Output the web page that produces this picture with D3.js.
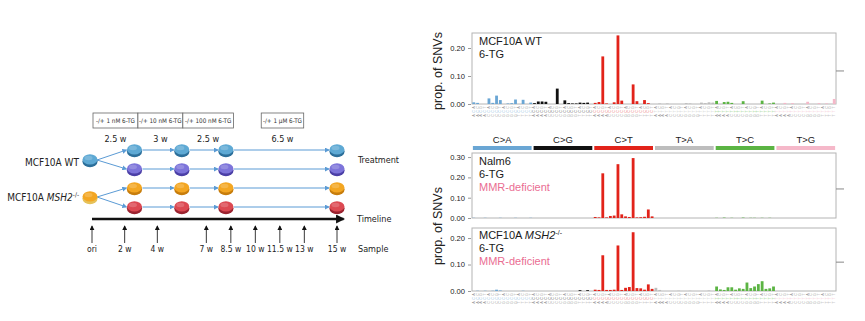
<!DOCTYPE html>
<html>
<head>
<meta charset="utf-8">
<script src="https://cdn.jsdelivr.net/npm/d3@7"></script>
<style>
  body { margin: 0; background: #fff; }
  svg { display: block; font-family: "Liberation Sans", Arial, sans-serif; }
  .narrow { font-family: "Liberation Sans Narrow", "DejaVu Sans Condensed", "Liberation Sans", Arial, sans-serif; }
</style>
</head>
<body>
<svg id="fig" width="865" height="321"></svg>
<script>
// ---- data ----
const mutTypes = ['C>A', 'C>G', 'C>T', 'T>A', 'T>C', 'T>G']
const bases = ['A', 'C', 'G', 'T']

// proportion of SNVs per trinucleotide channel (16 per mutation type)
const wtSNV = [
  0.006, 0.004, 0, 0, 0.020, 0.004, 0.030, 0.014, 0, 0.002, 0.003, 0.016, 0, 0.015, 0, 0.005,
  0.003, 0.009, 0.009, 0.008, 0, 0, 0.055, 0, 0.013, 0.003, 0.002, 0.002, 0.005, 0.004, 0.005, 0,
  0.004, 0.007, 0.170, 0.002, 0, 0.006, 0.245, 0.012, 0, 0, 0.070, 0.010, 0, 0.014, 0.003, 0,
  0, 0.002, 0, 0.002, 0, 0, 0, 0, 0.003, 0.002, 0, 0, 0.005, 0.003, 0.006, 0.005,
  0.011, 0, 0.007, 0.008, 0.004, 0, 0, 0.010, 0, 0, 0, 0, 0.012, 0, 0.002, 0.005,
  0, 0, 0.004, 0, 0.003, 0, 0, 0, 0.008, 0, 0, 0.003, 0, 0.002, 0, 0.018
]
const nalm6SNV = [
  0.001, 0, 0, 0.001, 0, 0, 0, 0.001, 0, 0, 0, 0.001, 0, 0, 0, 0.001,
  0, 0, 0, 0, 0, 0, 0, 0, 0, 0, 0, 0, 0, 0, 0, 0,
  0.005, 0.003, 0.220, 0.003, 0.010, 0.012, 0.265, 0.018, 0.008, 0.005, 0.295, 0.003, 0.004, 0.006, 0.042, 0.008,
  0, 0, 0, 0, 0, 0, 0, 0, 0, 0, 0, 0, 0, 0, 0, 0,
  0.001, 0, 0.002, 0, 0.001, 0, 0, 0.002, 0, 0.001, 0.001, 0, 0.001, 0, 0.001, 0,
  0, 0, 0, 0, 0, 0, 0, 0, 0, 0, 0, 0, 0, 0, 0, 0
]
const msh2SNV = [
  0, 0.001, 0, 0.001, 0, 0.001, 0.005, 0.002, 0, 0, 0, 0, 0, 0.001, 0, 0,
  0, 0, 0, 0, 0, 0, 0, 0, 0, 0, 0, 0, 0.003, 0, 0.003, 0,
  0.005, 0.004, 0.135, 0.004, 0.004, 0.005, 0.172, 0.004, 0.012, 0.015, 0.222, 0.011, 0.010, 0.005, 0.025, 0.008,
  0.012, 0.004, 0, 0, 0, 0, 0.001, 0, 0, 0.001, 0, 0, 0, 0, 0.002, 0,
  0.017, 0.006, 0.004, 0.014, 0.014, 0.005, 0.010, 0.008, 0.032, 0.011, 0.017, 0.026, 0.037, 0.008, 0.010, 0.017,
  0, 0, 0, 0, 0, 0, 0, 0, 0, 0, 0, 0, 0, 0, 0, 0
]

// experiment schedule (weeks)
const doseLabels = ['-/+ 1 nM 6-TG', '-/+ 10 nM 6-TG', '-/+ 100 nM 6-TG', '-/+ 1 \u03bcM 6-TG']
const doseSpans = [[0, 2.75], [2.75, 5.5], [5.5, 8.6], [10.3, 12.9]]
const stageLabels = ['2.5 w', '3 w', '2.5 w', '6.5 w']
const dishWeeks = [2.6, 5.5, 8.2, 15]
const sampleWeeks = [0, 2, 4, 7, 8.5, 10, 11.5, 13, 15]
const sampleLabels = ['ori', '2 w', '4 w', '7 w', '8.5 w', '10 w', '11.5 w', '13 w', '15 w']

// ---- styling ----
const typeColors = ['#6aa6d4', '#111111', '#e2231a', '#bdbdbd', '#5bb443', '#f5b8c9']
const ctxColors = ['#8ab8dc', '#555555', '#ea6a6a', '#c4c4c4', '#7cc46a', '#f3bccb']
const pinkText = '#ea6d92'
const arrowBlue = '#5b9bd5'

const svg = d3.select('#fig')
const defs = svg.append('defs')

const marker = (id, color, size) => defs.append('marker')
  .attr('id', id)
  .attr('viewBox', '0 0 6 6')
  .attr('refX', 5).attr('refY', 3)
  .attr('markerUnits', 'userSpaceOnUse')
  .attr('markerWidth', size).attr('markerHeight', size)
  .attr('orient', 'auto')
  .append('path').attr('d', 'M0,0L6,3L0,6z').attr('fill', color)

marker('ahBlue', arrowBlue, 5)
marker('ahBlack', '#111', 5)
marker('ahTime', '#111', 9)

// =========================================================
// Left: experimental design
// =========================================================
const wk = d3.scaleLinear().domain([0, 15]).range([92, 337])
const rowY = d3.scalePoint().domain([0, 1, 2, 3]).range([150, 207])
const dishFill = ['#5ea9d4', '#7d74da', '#f3a622', '#dc4952']
const dishRim = ['#2c6f9a', '#4b3fa6', '#c77d0c', '#9b2330']

const left = svg.append('g').attr('class', 'narrow')

// dose boxes
const boxY = 113, boxH = 15
left.selectAll('rect.dose')
  .data(doseLabels)
  .join('rect')
    .attr('class', 'dose')
    .attr('x', (d, i) => wk(doseSpans[i][0]) + 1)
    .attr('y', boxY)
    .attr('width', (d, i) => wk(doseSpans[i][1]) - wk(doseSpans[i][0]))
    .attr('height', boxH)
    .attr('fill', '#fff')
    .attr('stroke', '#666')
    .attr('stroke-width', 0.8)

left.selectAll('text.dose')
  .data(doseLabels)
  .join('text')
    .attr('class', 'dose')
    .attr('x', (d, i) => (wk(doseSpans[i][0]) + wk(doseSpans[i][1])) / 2 + 1)
    .attr('y', boxY + 10)
    .attr('text-anchor', 'middle')
    .attr('font-size', 6.3)
    .attr('fill', '#333')
    .text(d => d)

left.selectAll('text.stage')
  .data(stageLabels)
  .join('text')
    .attr('class', 'stage')
    .attr('x', (d, i) => (wk(doseSpans[i][0]) + wk(doseSpans[i][1])) / 2 + 1)
    .attr('y', 142)
    .attr('text-anchor', 'middle')
    .attr('font-size', 9)
    .attr('fill', '#222')
    .text(d => d)

// transfer arrows
const origins = [
  { y: 160, fill: dishFill[0], rim: dishRim[0], rows: [0, 1] },
  { y: 197, fill: '#f3a622', rim: '#e6c25a', rows: [2, 3] }
]
const ox = wk(0) - 2

origins.forEach(o => {
  o.rows.forEach(r => {
    left.append('line')
      .attr('x1', ox + 7).attr('y1', o.y)
      .attr('x2', wk(dishWeeks[0]) - 8).attr('y2', rowY(r))
      .attr('stroke', arrowBlue).attr('stroke-width', 1)
      .attr('marker-end', 'url(#ahBlue)')
  })
})

d3.range(4).forEach(r => {
  d3.range(dishWeeks.length - 1).forEach(c => {
    left.append('line')
      .attr('x1', wk(dishWeeks[c]) + 8).attr('y1', rowY(r))
      .attr('x2', wk(dishWeeks[c + 1]) - 8).attr('y2', rowY(r))
      .attr('stroke', arrowBlue).attr('stroke-width', 1)
      .attr('marker-end', 'url(#ahBlue)')
  })
})

// culture dishes
const dish = (g, x, y, fill, rim) => {
  g.append('ellipse').attr('cx', x).attr('cy', y + 1.6)
    .attr('rx', 7.6).attr('ry', 5.6).attr('fill', rim)
  g.append('ellipse').attr('cx', x).attr('cy', y - 0.6)
    .attr('rx', 7.4).attr('ry', 5.2).attr('fill', fill)
  g.append('ellipse').attr('cx', x - 1.5).attr('cy', y - 2)
    .attr('rx', 4).attr('ry', 2.2).attr('fill', '#fff').attr('opacity', 0.18)
}

origins.forEach(o => dish(left, ox, o.y, o.fill, o.rim))
d3.range(4).forEach(r => {
  dishWeeks.forEach(w => dish(left, wk(w), rowY(r), dishFill[r], dishRim[r]))
})

// cell line labels
left.append('text')
  .attr('x', 79).attr('y', 166)
  .attr('text-anchor', 'end').attr('font-size', 10).attr('fill', '#222')
  .text('MCF10A WT')

const msh2Label = left.append('text')
  .attr('x', 79).attr('y', 201)
  .attr('text-anchor', 'end').attr('font-size', 10).attr('fill', '#222')
msh2Label.append('tspan').text('MCF10A ')
msh2Label.append('tspan').attr('font-style', 'italic').text('MSH2')
msh2Label.append('tspan').attr('font-size', 6.5).attr('dy', -4).text('-/-')

// timeline
left.append('line')
  .attr('x1', wk(0)).attr('y1', 219)
  .attr('x2', wk(15.4)).attr('y2', 219)
  .attr('stroke', '#111').attr('stroke-width', 2.6)
  .attr('marker-end', 'url(#ahTime)')

left.selectAll('line.sample')
  .data(sampleWeeks)
  .join('line')
    .attr('class', 'sample')
    .attr('x1', d => wk(d)).attr('y1', 243)
    .attr('x2', d => wk(d)).attr('y2', 226)
    .attr('stroke', '#222').attr('stroke-width', 0.9)
    .attr('marker-end', 'url(#ahBlack)')

left.selectAll('text.sample')
  .data(sampleLabels)
  .join('text')
    .attr('class', 'sample')
    .attr('x', (d, i) => wk(sampleWeeks[i]))
    .attr('y', 252)
    .attr('text-anchor', 'middle')
    .attr('font-size', 8.5)
    .attr('fill', '#222')
    .text(d => d)

left.append('text').attr('x', 358).attr('y', 163).attr('font-size', 9).attr('fill', '#222').text('Treatment')
left.append('text').attr('x', 357).attr('y', 222).attr('font-size', 9).attr('fill', '#222').text('Timeline')
left.append('text').attr('x', 358).attr('y', 252).attr('font-size', 9).attr('fill', '#222').text('Sample')

// =========================================================
// Right: 96-channel SNV spectra
// =========================================================
const channels = mutTypes.flatMap((t, ti) =>
  bases.flatMap(b5 => bases.map(b3 => ({ type: ti, b5, mid: t[0], b3 })))
)

const x = d3.scaleBand()
  .domain(d3.range(channels.length))
  .range([472, 836])
  .paddingInner(0.26)
  .paddingOuter(0.1)

const panels = [
  { values: wtSNV, top: 33, bottom: 104, max: 0.2536, ticks: [0, 0.1, 0.2], context: true, sideTick: 0.118, titleY: 45,
    title: [[{ t: 'MCF10A WT' }], [{ t: '6-TG' }]] },
  { values: nalm6SNV, top: 153, bottom: 218, max: 0.32, ticks: [0, 0.1, 0.2, 0.3], context: false, sideTick: 0.143, titleY: 165,
    title: [[{ t: 'Nalm6' }], [{ t: '6-TG' }], [{ t: 'MMR-deficient', pink: true }]] },
  { values: msh2SNV, top: 228, bottom: 291, max: 0.238, ticks: [0, 0.1, 0.2], context: true, sideTick: 0.109, titleY: 239,
    title: [[{ t: 'MCF10A ' }, { t: 'MSH2', it: true }, { t: '-/-', sup: true }], [{ t: '6-TG' }], [{ t: 'MMR-deficient', pink: true }]] }
]

const groupX0 = ti => x(ti * 16) - x.step() * x.paddingInner() / 2 - 0.5
const groupX1 = ti => x(ti * 16 + 15) + x.bandwidth() + x.step() * x.paddingInner() / 2 + 0.5

panels.forEach(p => {
  const y = d3.scaleLinear().domain([0, p.max]).range([p.bottom, p.top])
  const g = svg.append('g')

  g.append('rect')
    .attr('x', 472).attr('y', p.top)
    .attr('width', 364).attr('height', p.bottom - p.top)
    .attr('fill', 'none').attr('stroke', '#b4b4b4').attr('stroke-width', 1)

  // short marker on the right edge
  g.append('line')
    .attr('x1', 836).attr('x2', 844)
    .attr('y1', y(p.sideTick)).attr('y2', y(p.sideTick))
    .attr('stroke', '#888').attr('stroke-width', 1)

  const axis = g.append('g')
    .attr('transform', 'translate(471,0)')
    .call(d3.axisLeft(y).tickValues(p.ticks).tickFormat(d3.format('.2f')).tickSize(3))
  axis.select('.domain').remove()
  axis.selectAll('line').attr('stroke', '#999')
  axis.selectAll('text')
    .attr('font-size', 7.6).attr('fill', '#222')
    .attr('font-family', '"Liberation Sans", Arial, sans-serif')

  g.selectAll('rect.bar')
    .data(p.values)
    .join('rect')
      .attr('class', 'bar')
      .attr('x', (d, i) => x(i))
      .attr('width', x.bandwidth())
      .attr('y', d => y(d))
      .attr('height', d => p.bottom - y(d))
      .attr('fill', (d, i) => typeColors[channels[i].type])

  // panel title, one <text> per line
  p.title.forEach((line, li) => {
    const t = g.append('text')
      .attr('x', 479).attr('y', p.titleY + li * 12.8)
      .attr('font-size', 11).attr('fill', '#1a1a1a')
    line.forEach(part => {
      const ts = t.append('tspan').text(part.t)
      if (part.it) ts.attr('font-style', 'italic')
      if (part.sup) ts.attr('font-size', 7).attr('dy', -4.5)
      if (part.pink) ts.attr('fill', pinkText)
    })
  })

  // trinucleotide context rows under the bars
  if (p.context) {
    const rows = [
      { key: 'b3', color: () => '#9a9a9a' },
      { key: 'mid', color: c => ctxColors[c.type] },
      { key: 'b5', color: () => '#9a9a9a' }
    ]
    rows.forEach((row, ri) => {
      g.selectAll(`text.ctx${ri}`)
        .data(channels)
        .join('text')
          .attr('class', `ctx${ri}`)
          .attr('transform', (c, i) => `translate(${x(i) + x.bandwidth() / 2},${p.bottom + 3.5 + ri * 4}) rotate(-90)`)
          .attr('text-anchor', 'middle')
          .attr('dominant-baseline', 'central')
          .attr('font-size', 3.6)
          .attr('fill', c => row.color(c))
          .text(c => c[row.key])
    })
  }
})

// mutation type strip between panels
const strip = svg.append('g')
strip.selectAll('rect')
  .data(mutTypes)
  .join('rect')
    .attr('x', (d, i) => groupX0(i) + 1.5)
    .attr('y', 146)
    .attr('width', (d, i) => groupX1(i) - groupX0(i) - 3)
    .attr('height', 4)
    .attr('fill', (d, i) => typeColors[i])
strip.selectAll('text')
  .data(mutTypes)
  .join('text')
    .attr('x', (d, i) => (groupX0(i) + groupX1(i)) / 2)
    .attr('y', 143)
    .attr('text-anchor', 'middle')
    .attr('font-size', 9.5)
    .attr('fill', '#222')
    .text(d => d)

// y axis titles
svg.append('text')
  .attr('transform', 'translate(442,71) rotate(-90)')
  .attr('text-anchor', 'middle')
  .attr('font-size', 12.5).attr('fill', '#222')
  .text('prop. of SNVs')
svg.append('text')
  .attr('transform', 'translate(442,226) rotate(-90)')
  .attr('text-anchor', 'middle')
  .attr('font-size', 12.5).attr('fill', '#222')
  .text('prop. of SNVs')
</script>
</body>
</html>
